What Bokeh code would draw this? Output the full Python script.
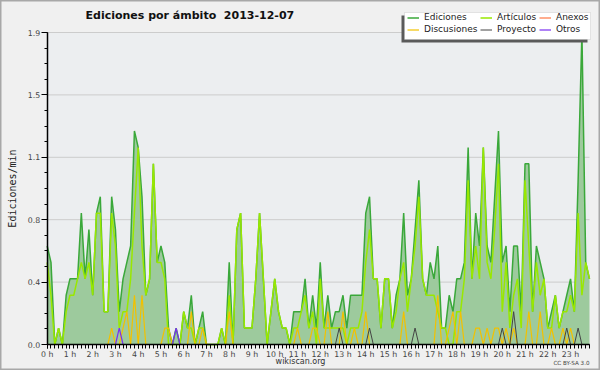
from bokeh.plotting import figure
from bokeh.models import (FixedTicker, Legend, LegendItem, Range1d, LinearAxis,
                          Label, BoxAnnotation)
from bokeh.embed import file_html
from bokeh.resources import INLINE

# ---- data: edits per minute, 10-minute bins (144 bins over the day) ----
bin_minutes = list(range(0, 1440, 10))

ediciones = [
    0.6, 0.5, 0.0, 0.1, 0.0, 0.3, 0.4, 0.4, 0.4, 0.8, 0.4, 0.7,
    0.3, 0.8, 0.9, 0.2, 0.2, 0.9, 0.7, 0.2, 0.4, 0.5, 0.6, 1.3,
    1.2, 0.9, 0.3, 0.4, 1.1, 0.5, 0.6, 0.5, 0.1, 0.0, 0.1, 0.0,
    0.2, 0.1, 0.3, 0.0, 0.1, 0.2, 0.0, 0.0, 0.0, 0.0, 0.1, 0.0,
    0.5, 0.0, 0.7, 0.8, 0.1, 0.1, 0.1, 0.4, 0.8, 0.4, 0.0, 0.2,
    0.4, 0.2, 0.1, 0.1, 0.0, 0.2, 0.2, 0.2, 0.4, 0.1, 0.3, 0.1,
    0.5, 0.1, 0.3, 0.1, 0.2, 0.2, 0.3, 0.1, 0.3, 0.3, 0.3, 0.3,
    0.8, 0.9, 0.4, 0.4, 0.1, 0.4, 0.4, 0.1, 0.3, 0.4, 0.8, 0.3,
    0.4, 0.7, 1.0, 0.4, 0.3, 0.5, 0.4, 0.6, 0.1, 0.1, 0.3, 0.2,
    0.4, 0.4, 0.5, 1.2, 0.4, 0.8, 0.6, 1.2, 0.6, 0.5, 0.9, 1.3,
    0.5, 0.6, 0.2, 0.6, 0.6, 0.2, 1.1, 1.1, 0.2, 0.6, 0.5, 0.4,
    0.1, 0.2, 0.3, 0.1, 0.2, 0.3, 0.4, 0.2, 1.0, 1.9, 0.5, 0.4,
]
articulos = [
    0.5, 0.3, 0.0, 0.1, 0.0, 0.2, 0.3, 0.3, 0.4, 0.5, 0.4, 0.5,
    0.3, 0.8, 0.8, 0.2, 0.2, 0.8, 0.6, 0.1, 0.2, 0.2, 0.4, 0.8,
    1.2, 0.6, 0.3, 0.4, 1.1, 0.5, 0.5, 0.4, 0.0, 0.0, 0.0, 0.0,
    0.2, 0.1, 0.1, 0.0, 0.1, 0.1, 0.0, 0.0, 0.0, 0.0, 0.1, 0.0,
    0.3, 0.0, 0.7, 0.8, 0.1, 0.1, 0.1, 0.4, 0.8, 0.4, 0.0, 0.2,
    0.4, 0.2, 0.1, 0.1, 0.0, 0.1, 0.1, 0.2, 0.3, 0.1, 0.2, 0.0,
    0.4, 0.1, 0.1, 0.1, 0.1, 0.1, 0.1, 0.0, 0.1, 0.1, 0.1, 0.2,
    0.5, 0.7, 0.4, 0.4, 0.1, 0.4, 0.4, 0.1, 0.2, 0.4, 0.5, 0.2,
    0.4, 0.6, 0.9, 0.4, 0.3, 0.3, 0.3, 0.2, 0.1, 0.1, 0.0, 0.0,
    0.2, 0.2, 0.4, 1.0, 0.4, 0.6, 0.4, 1.2, 0.5, 0.4, 0.7, 1.1,
    0.2, 0.5, 0.1, 0.3, 0.4, 0.1, 1.0, 0.6, 0.2, 0.5, 0.3, 0.4,
    0.1, 0.1, 0.3, 0.1, 0.2, 0.2, 0.3, 0.2, 0.8, 0.3, 0.5, 0.4,
]
discusiones = [
    0.0, 0.0, 0.0, 0.0, 0.0, 0.0, 0.0, 0.0, 0.0, 0.0, 0.0, 0.0,
    0.0, 0.0, 0.0, 0.0, 0.0, 0.1, 0.0, 0.0, 0.1, 0.2, 0.0, 0.3,
    0.0, 0.3, 0.0, 0.0, 0.0, 0.0, 0.0, 0.1, 0.1, 0.0, 0.0, 0.0,
    0.0, 0.0, 0.2, 0.0, 0.0, 0.1, 0.0, 0.0, 0.0, 0.0, 0.0, 0.0,
    0.2, 0.0, 0.0, 0.0, 0.0, 0.0, 0.0, 0.0, 0.0, 0.0, 0.0, 0.0,
    0.0, 0.0, 0.0, 0.0, 0.0, 0.0, 0.1, 0.0, 0.0, 0.0, 0.1, 0.1,
    0.0, 0.0, 0.2, 0.0, 0.0, 0.0, 0.2, 0.0, 0.0, 0.1, 0.0, 0.0,
    0.2, 0.0, 0.0, 0.0, 0.0, 0.0, 0.0, 0.0, 0.0, 0.0, 0.2, 0.0,
    0.0, 0.0, 0.0, 0.0, 0.0, 0.0, 0.0, 0.3, 0.0, 0.0, 0.1, 0.2,
    0.0, 0.2, 0.0, 0.0, 0.0, 0.1, 0.1, 0.0, 0.1, 0.0, 0.1, 0.1,
    0.0, 0.1, 0.0, 0.1, 0.0, 0.0, 0.0, 0.2, 0.0, 0.0, 0.2, 0.0,
    0.0, 0.1, 0.0, 0.0, 0.1, 0.0, 0.1, 0.0, 0.0, 0.0, 0.0, 0.0,
]
proyecto = [
    0.0, 0.0, 0.0, 0.0, 0.0, 0.0, 0.0, 0.0, 0.0, 0.0, 0.0, 0.0,
    0.0, 0.0, 0.0, 0.0, 0.0, 0.0, 0.0, 0.0, 0.0, 0.0, 0.0, 0.0,
    0.0, 0.0, 0.0, 0.0, 0.0, 0.0, 0.0, 0.0, 0.0, 0.0, 0.0, 0.0,
    0.0, 0.0, 0.0, 0.0, 0.0, 0.0, 0.0, 0.0, 0.0, 0.0, 0.0, 0.0,
    0.0, 0.0, 0.0, 0.0, 0.0, 0.0, 0.0, 0.0, 0.0, 0.0, 0.0, 0.0,
    0.0, 0.0, 0.0, 0.0, 0.0, 0.0, 0.0, 0.0, 0.0, 0.0, 0.0, 0.0,
    0.0, 0.0, 0.0, 0.0, 0.0, 0.1, 0.0, 0.0, 0.0, 0.0, 0.0, 0.0,
    0.0, 0.1, 0.0, 0.0, 0.0, 0.0, 0.0, 0.0, 0.0, 0.0, 0.0, 0.0,
    0.0, 0.1, 0.0, 0.0, 0.0, 0.0, 0.0, 0.0, 0.0, 0.0, 0.0, 0.0,
    0.0, 0.0, 0.0, 0.0, 0.0, 0.0, 0.0, 0.0, 0.0, 0.0, 0.0, 0.0,
    0.1, 0.0, 0.0, 0.2, 0.0, 0.0, 0.0, 0.0, 0.0, 0.0, 0.0, 0.0,
    0.0, 0.0, 0.0, 0.0, 0.0, 0.1, 0.0, 0.0, 0.1, 0.0, 0.0, 0.0,
]
otros = [
    0.0, 0.0, 0.0, 0.0, 0.0, 0.0, 0.0, 0.0, 0.0, 0.0, 0.0, 0.0,
    0.0, 0.0, 0.0, 0.0, 0.0, 0.0, 0.0, 0.1, 0.0, 0.0, 0.0, 0.0,
    0.0, 0.0, 0.0, 0.0, 0.0, 0.0, 0.0, 0.0, 0.0, 0.0, 0.1, 0.0,
    0.0, 0.0, 0.0, 0.0, 0.0, 0.0, 0.0, 0.0, 0.0, 0.0, 0.0, 0.0,
    0.0, 0.0, 0.0, 0.0, 0.0, 0.0, 0.0, 0.0, 0.0, 0.0, 0.0, 0.0,
    0.0, 0.0, 0.0, 0.0, 0.0, 0.0, 0.0, 0.0, 0.0, 0.0, 0.0, 0.0,
    0.0, 0.0, 0.0, 0.0, 0.0, 0.0, 0.0, 0.0, 0.0, 0.0, 0.0, 0.0,
    0.0, 0.0, 0.0, 0.0, 0.0, 0.0, 0.0, 0.0, 0.0, 0.0, 0.0, 0.0,
    0.0, 0.0, 0.0, 0.0, 0.0, 0.0, 0.0, 0.0, 0.0, 0.0, 0.0, 0.0,
    0.0, 0.0, 0.0, 0.0, 0.0, 0.0, 0.0, 0.0, 0.0, 0.0, 0.0, 0.0,
    0.0, 0.0, 0.0, 0.0, 0.0, 0.0, 0.0, 0.0, 0.0, 0.0, 0.0, 0.0,
    0.0, 0.0, 0.0, 0.0, 0.0, 0.0, 0.0, 0.0, 0.0, 0.0, 0.0, 0.0,
]
anexos = [
    0.0, 0.0, 0.0, 0.0, 0.0, 0.0, 0.0, 0.0, 0.0, 0.0, 0.0, 0.0,
    0.0, 0.0, 0.0, 0.0, 0.0, 0.0, 0.0, 0.0, 0.0, 0.0, 0.0, 0.0,
    0.0, 0.0, 0.0, 0.0, 0.0, 0.0, 0.0, 0.0, 0.0, 0.0, 0.0, 0.0,
    0.0, 0.0, 0.0, 0.0, 0.0, 0.0, 0.0, 0.0, 0.0, 0.0, 0.0, 0.0,
    0.0, 0.0, 0.0, 0.0, 0.0, 0.0, 0.0, 0.0, 0.0, 0.0, 0.0, 0.0,
    0.0, 0.0, 0.0, 0.0, 0.0, 0.0, 0.0, 0.0, 0.0, 0.0, 0.0, 0.0,
    0.0, 0.0, 0.0, 0.0, 0.0, 0.0, 0.0, 0.0, 0.0, 0.0, 0.0, 0.0,
    0.0, 0.0, 0.0, 0.0, 0.0, 0.0, 0.0, 0.0, 0.0, 0.0, 0.0, 0.0,
    0.0, 0.0, 0.0, 0.0, 0.0, 0.0, 0.0, 0.0, 0.0, 0.0, 0.0, 0.0,
    0.0, 0.0, 0.0, 0.0, 0.0, 0.0, 0.0, 0.0, 0.0, 0.0, 0.0, 0.0,
    0.0, 0.0, 0.0, 0.0, 0.0, 0.0, 0.0, 0.0, 0.0, 0.0, 0.0, 0.0,
    0.0, 0.0, 0.0, 0.0, 0.0, 0.0, 0.0, 0.0, 0.0, 0.0, 0.0, 0.0,
]

hour_ticks = list(range(24))
hour_labels = ["%d h" % h for h in hour_ticks]
y_ticks = [0.0, 0.38, 0.76, 1.14, 1.52, 1.9]
y_tick_labels = ["0.0", "0.4", "0.8", "1.1", "1.5", "1.9"]
y_minor = [0.095 * k for k in range(21)]

x = [m / 60 for m in bin_minutes]
X_END = x[-1]
Y_TOP = y_ticks[-1]

# ---- layout (pixels inside the figure, measured from the top-left) ----
W, H = 600, 370
PX_LEFT, PX_RIGHT = 46.7, 589.0      # where 0 h and the last bin sit
PX_TOP, PX_ZERO = 32.0, 344.0        # where 1.9 and 0.0 sit
sx = (PX_RIGHT - PX_LEFT) / X_END
sy = (PX_ZERO - PX_TOP) / Y_TOP
x_range = Range1d(-PX_LEFT / sx, X_END + (W - PX_RIGHT) / sx)
y_range = Range1d(-(H - PX_ZERO) / sy, Y_TOP + PX_TOP / sy)

p = figure(width=W, height=H, output_backend="svg", toolbar_location=None,
           x_range=x_range, y_range=y_range, x_axis_type=None, y_axis_type=None,
           min_border=0, min_border_left=0, min_border_right=0,
           min_border_top=0, min_border_bottom=0)
p.background_fill_color = "#f0f0f0"
p.border_fill_color = "#f0f0f0"
p.outline_line_color = "#a8a8a8"
p.outline_line_width = 2
p.xgrid.visible = False
p.ygrid.visible = False
p.title.visible = False

# plot area background and horizontal grid lines
p.add_layout(BoxAnnotation(left=0, right=X_END, bottom=0, top=Y_TOP,
                           fill_color="#eceef0", fill_alpha=1.0,
                           line_color=None, level="underlay"))
p.segment(x0=[0] * 5, x1=[X_END] * 5, y0=y_ticks[1:], y1=y_ticks[1:],
          line_color="#cccccc", line_width=1)

p.varea(x=x, y1=[0] * len(x), y2=ediciones, fill_color="#9dca9d", fill_alpha=1.0)
r_ed = p.line(x, ediciones, line_color="#3aa83a", line_width=1.5)
r_art = p.line(x, articulos, line_color="#99e800", line_width=1.5)
r_an = p.line(x, anexos, line_color="#ff7744", line_width=1.2)
r_dis = p.line(x, discusiones, line_color="#f2c100", line_width=1.2)
r_pro = p.line(x, proyecto, line_color="#444444", line_width=1.0)
r_ot = p.line(x, otros, line_color="#7a2ff0", line_width=1.2)

# axes drawn at fixed locations inside the frame
xa = LinearAxis(fixed_location=0, bounds=(0, X_END))
xa.ticker = FixedTicker(ticks=hour_ticks, minor_ticks=x)
xa.major_label_overrides = dict(zip(hour_ticks, hour_labels))
xa.axis_line_color = "black"
xa.axis_line_width = 1.5
xa.major_tick_in = 0
xa.major_tick_out = 4
xa.minor_tick_in = 0
xa.minor_tick_out = 4
xa.major_tick_line_color = "black"
xa.minor_tick_line_color = "black"
xa.major_label_text_font = "DejaVu Sans"
xa.major_label_text_font_size = "7.8px"
xa.major_label_text_color = "#444444"
xa.major_label_standoff = 1
p.add_layout(xa, "below")

ya = LinearAxis(fixed_location=0, bounds=(0, Y_TOP))
ya.ticker = FixedTicker(ticks=y_ticks, minor_ticks=y_minor)
ya.major_label_overrides = dict(zip(y_ticks, y_tick_labels))
ya.axis_line_color = "black"
ya.axis_line_width = 1.5
ya.major_tick_in = 0
ya.major_tick_out = 6
ya.minor_tick_in = 0
ya.minor_tick_out = 3
ya.major_tick_line_color = "black"
ya.minor_tick_line_color = "black"
ya.major_label_text_font = "DejaVu Sans"
ya.major_label_text_font_size = "7.8px"
ya.major_label_text_color = "#444444"
ya.major_label_standoff = 1
ya.axis_label = "Ediciones/min"
ya.axis_label_text_font = "DejaVu Sans Mono"
ya.axis_label_text_font_size = "10px"
ya.axis_label_text_font_style = "normal"
ya.axis_label_text_color = "#222222"
ya.axis_label_standoff = 7
p.add_layout(ya, "left")

# title and credits (screen units from the bottom-left of the figure)
p.add_layout(Label(x=85, y=H - 15, x_units="screen", y_units="screen",
                   text="Ediciones por ámbito\u00a0 2013-12-07",
                   text_font="DejaVu Sans", text_font_style="bold",
                   text_font_size="11px", text_color="#111111",
                   text_baseline="middle"))
p.add_layout(Label(x=300, y=H - 361, x_units="screen", y_units="screen",
                   text="wikiscan.org", text_font="DejaVu Sans",
                   text_font_size="8px", text_color="#333333",
                   text_align="center", text_baseline="middle"))
p.add_layout(Label(x=589, y=H - 362, x_units="screen", y_units="screen",
                   text="CC BY-SA 3.0", text_font="DejaVu Sans",
                   text_font_size="5.6px", text_color="#444444",
                   text_align="right", text_baseline="middle"))

# legend box with drop shadow (screen units, y measured from the bottom)
p.add_layout(BoxAnnotation(left=401, right=587, top=H - 15, bottom=H - 42,
                           left_units="screen", right_units="screen",
                           top_units="screen", bottom_units="screen",
                           fill_color="#5a5a5a", fill_alpha=1.0, line_color=None))
p.add_layout(BoxAnnotation(left=404, right=590, top=H - 12, bottom=H - 39,
                           left_units="screen", right_units="screen",
                           top_units="screen", bottom_units="screen",
                           fill_color="white", fill_alpha=1.0,
                           line_color="#b0b0b0", line_width=1))

columns = [
    (407, [("Ediciones", r_ed), ("Discusiones", r_dis)]),
    (480, [("Artículos", r_art), ("Proyecto", r_pro)]),
    (539, [("Anexos", r_an), ("Otros", r_ot)]),
]
for col_x, entries in columns:
    lg = Legend(items=[LegendItem(label=n, renderers=[r]) for n, r in entries],
                location=(col_x, H - 34), orientation="vertical")
    lg.border_line_color = None
    lg.background_fill_alpha = 0
    lg.label_text_font = "DejaVu Sans"
    lg.label_text_font_size = "9px"
    lg.label_text_color = "#222222"
    lg.glyph_width = 12
    lg.glyph_height = 9
    lg.label_height = 9
    lg.label_standoff = 5
    lg.spacing = 2
    lg.padding = 0
    lg.margin = 0
    p.add_layout(lg, "center")

open("out.html", "w").write(file_html(p, INLINE))
